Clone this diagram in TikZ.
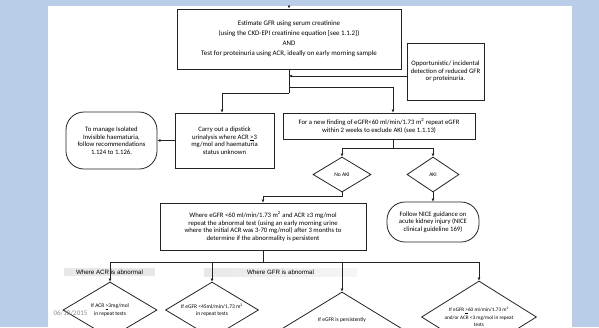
\documentclass[tikz,border=0pt]{standalone}
\usepackage{fontspec}
\setmainfont{Carlito}
\newfontfamily\arialfont{Liberation Sans}
\usetikzlibrary{shapes.geometric,arrows.meta,calc}

\definecolor{slideblue}{RGB}{185,205,232}
\definecolor{boxline}{RGB}{35,35,35}
\definecolor{tabgray}{RGB}{232,232,232}

\begin{document}
\begin{tikzpicture}[x=1pt,y=-1pt,
    box/.style={draw=boxline, line width=0.8pt, align=center, inner sep=1pt,
        font=\fontsize{6.7}{7.6}\selectfont},
    roundbox/.style={box, rounded corners=18pt},
    dia/.style={draw=boxline, line width=0.8pt, diamond, inner sep=0pt, align=center},
    arr/.style={-{Latex[length=3pt,width=3pt]}, line width=0.8pt, draw=boxline},
    link/.style={line width=0.8pt, draw=boxline},
    tab/.style={fill=tabgray, inner sep=0pt, minimum height=8pt,
        font=\arialfont\fontsize{6.2}{7}\selectfont}
]

    % 页面背景
    \useasboundingbox (0,0) rectangle (599,327);
    \fill[slideblue] (0,0) rectangle (599,327);
    \fill[white] (48,6) rectangle (572,327);

    % 上半部分
    \coordinate (topin) at (289,6);
    \node[box, line width=1pt, minimum width=224, minimum height=60,
        font=\fontsize{6.9}{10}\selectfont] (est) at (289,39)
        {Estimate GFR using serum creatinine\\
         (using the CKD-EPI creatinine equation [see 1.1.2])\\
         AND\\
         Test for proteinuria using ACR, ideally on early morning sample};
    \node[box, minimum width=77, minimum height=57] (opp) at (445.5,71.5)
        {Opportunistic/ incidental\\ detection of reduced GFR\\ or proteinuria.};
    \node[box, minimum width=99, minimum height=55] (dip) at (224.5,140.5)
        {Carry out a dipstick\\ urinalysis where ACR \underline{>}3\\ mg/mol and haematuria\\ status unknown};
    \node[roundbox, minimum width=91, minimum height=57] (haem) at (111.5,140.5)
        {To manage Isolated\\ Invisible haematuria,\\ follow recommendations\\ 1.124 to 1.126.};
    \node[box, minimum width=192, minimum height=26] (newfind) at (379,126)
        {For a new finding of eGFR<60 ml/min/1.73 m\textsuperscript{2} repeat eGFR\\
         within 2 weeks to exclude AKI (see 1.1.13)};

    % AKI 判断
    \node[dia, minimum width=58, minimum height=35, aspect=1.66,
        font=\fontsize{5.5}{6.5}\selectfont] (noaki) at (342,174.5) {No AKI};
    \node[dia, minimum width=52, minimum height=35, aspect=1.5,
        font=\fontsize{5.5}{6.5}\selectfont] (aki) at (433,174.5) {AKI};
    \node[box, minimum width=206, minimum height=47] (repeat) at (263,226.5)
        {Where eGFR <60 ml/min/1.73 m\textsuperscript{2} and ACR ≥3 mg/mol\\
         repeat the abnormal test (using an early morning urine\\
         where the initial ACR was 3-70 mg/mol) after 3 months to\\
         determine if the abnormality is persistent};
    \node[roundbox, minimum width=92, minimum height=40] (aki guide) at (433,222)
        {Follow NICE guidance on\\ acute kidney injury (NICE\\ clinical guideline 169)};

    % 分支标签
    \node[tab, minimum width=91] (acrtab) at (109.5,272) {Where ACR is abnormal};
    \node[tab, minimum width=153, left color=tabgray, right color=tabgray!40] (gfrtab) at (280.5,272)
        {Where GFR is abnormal};

    % 底部判断
    \node[dia, minimum width=94, minimum height=56, aspect=1.68,
        font=\fontsize{5.5}{7.5}\selectfont] (acrhigh) at (110,310)
        {If ACR \underline{>}3mg/mol\\ in repeat tests};
    \node[dia, minimum width=93, minimum height=56, aspect=1.66,
        font=\fontsize{5.5}{7.5}\selectfont] (gfrlow) at (212,310)
        {If eGFR <45ml/min/1.73 m\textsuperscript{2}\\ in repeat tests};
    \node[dia, minimum width=180, minimum height=110, aspect=1.64] (gfrpers) at (342,347) {};
    \node[font=\fontsize{5.5}{7.5}\selectfont, inner sep=0pt] (gfrperstxt) at (342,320)
        {If eGFR is persistently};
    \node[dia, minimum width=115, minimum height=72, aspect=1.6,
        font=\fontsize{5.2}{7.4}\selectfont] (normal) at (479,317)
        {If eGFR \underline{>}60 ml/min/1.73 m\textsuperscript{2}\\
         and/or ACR <3 mg/mol in repeat\\ tests};

    % 日期
    \node[font=\fontsize{7}{8}\selectfont, text=black!45, inner sep=0pt] (date) at (70.5,313) {06/18/2015};

    % 连线
    \draw[arr] (topin) -- (est.north);
    \coordinate (j1) at (289,76);
    \coordinate (j2) at (289,87);
    \coordinate (j3) at (289,93);
    \draw[arr] (opp.west |- j1) -- (j1);
    \draw[link] (est.south) -- (j3);
    \draw[arr] (j2) -| ([xshift=14pt]newfind.north);
    \draw[arr] (j3) -| ([xshift=-2.5pt]dip.north);
    \draw[arr] (dip.west) -- (dip.west -| haem.east);
    \draw[link] ([xshift=14pt]newfind.south) -- ++(0,9) coordinate (j4);
    \draw[arr] (j4) -| (noaki.north);
    \draw[arr] (j4) -| (aki.north);
    \draw[arr] (noaki.south) -- ++(0,4) -| (repeat.north);
    \draw[arr] (aki.south) -- (aki guide.north);
    \draw[link] (repeat.south) -- ++(0,12) coordinate (j5);
    \draw[arr] (j5) -| (acrhigh.north);
    \draw[arr] (j5) -| (gfrlow.north);
    \draw[arr] (j5) -| (gfrpers.north);
    \draw[arr] (j5) -| (normal.north);

\end{tikzpicture}
\end{document}
